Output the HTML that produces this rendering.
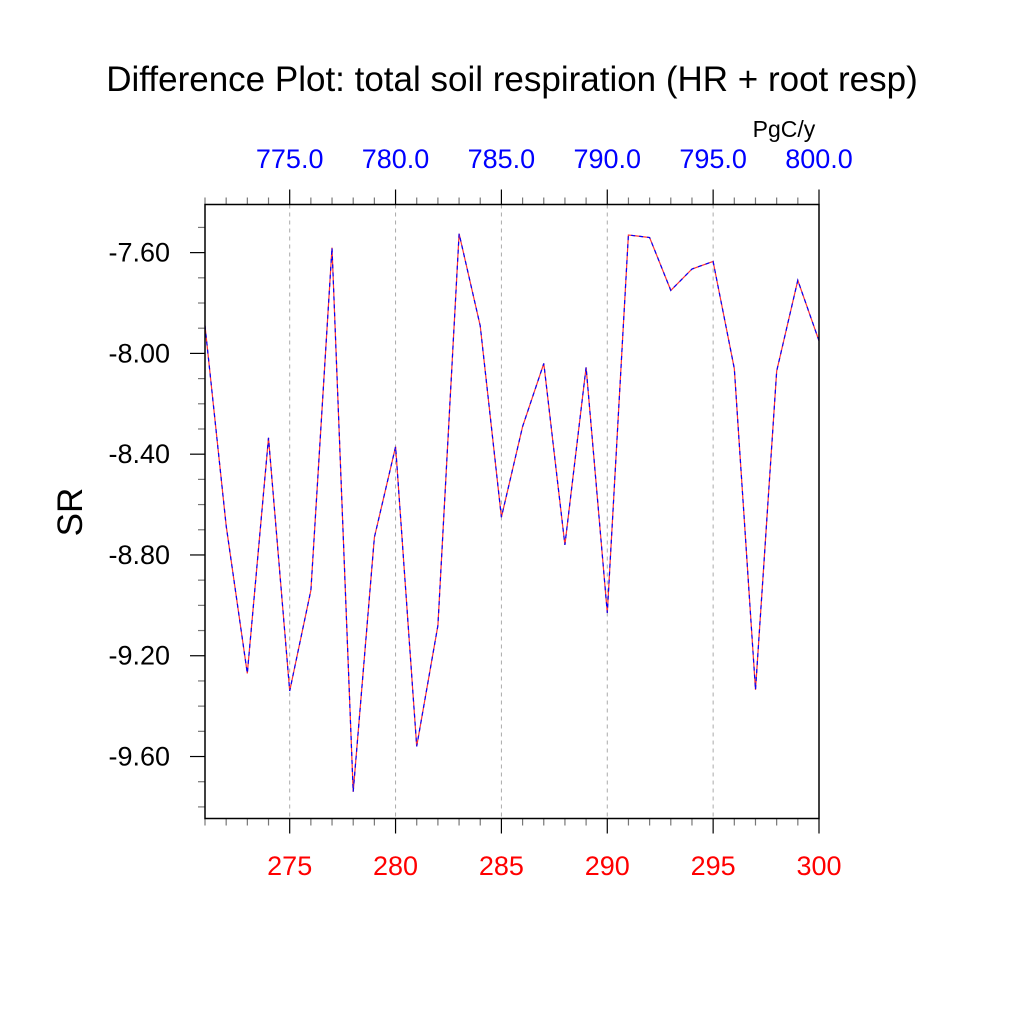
<!DOCTYPE html>
<html><head><meta charset="utf-8"><style>
html,body{margin:0;padding:0;background:#fff;}
svg{display:block;font-family:"Liberation Sans",sans-serif;}
</style></head><body>
<svg id="chart" width="1024" height="1024" viewBox="0 0 1024 1024">
<text x="512" y="91" text-anchor="middle" font-size="35" fill="#000">Difference Plot: total soil respiration (HR + root resp)</text>
<text x="784" y="137" text-anchor="middle" font-size="23" fill="#000">PgC/y</text>
<text x="82" y="512" text-anchor="middle" font-size="35" fill="#000" transform="rotate(-90 82 512)">SR</text>
<g id="grid"></g><g id="ticks"></g><g id="series"></g>
<rect x="205" y="204.5" width="614" height="614" fill="none" stroke="#000" stroke-width="1.5"/>
</svg>
<script>
const years=[271,272,273,274,275,276,277,278,279,280,281,282,283,284,285,286,287,288,289,290,291,292,293,294,295,296,297,298,299,300];
const srValues=[-7.89,-8.685,-9.27,-8.335,-9.34,-8.94,-7.58,-9.74,-8.73,-8.37,-9.56,-9.08,-7.525,-7.89,-8.65,-8.29,-8.04,-8.76,-8.055,-9.03,-7.53,-7.54,-7.75,-7.665,-7.635,-8.06,-9.335,-8.07,-7.71,-7.95];
const bottomTicks=[275,280,285,290,295,300];
const topTicks=["775.0","780.0","785.0","790.0","795.0","800.0"];
const yTicks=[-7.6,-8.0,-8.4,-8.8,-9.2,-9.6];
const yTickLabels=["-7.60","-8.00","-8.40","-8.80","-9.20","-9.60"];
const NS="http://www.w3.org/2000/svg";
const X0=271,X1=300,PX0=205,PX1=819;
const Y0=-7.409,Y1=-9.846,PY0=204.5,PY1=818.5;
const xs=v=>PX0+(v-X0)/(X1-X0)*(PX1-PX0);
const ys=v=>PY0+(v-Y0)/(Y1-Y0)*(PY1-PY0);
function mk(tag,attrs,parent){const e=document.createElementNS(NS,tag);for(const k in attrs)e.setAttribute(k,attrs[k]);parent.appendChild(e);return e;}
const grid=document.getElementById('grid'),ticks=document.getElementById('ticks'),series=document.getElementById('series');
for(let v=X0;v<=X1;v++){
  const x=xs(v);const major=bottomTicks.includes(v);const L=major?15:7;
  const t1=mk('line',{x1:x,x2:x,y1:PY1,y2:PY1+L,stroke:major?'#000':'#777','stroke-width':1.2},ticks);
  
  
  const t2=mk('line',{x1:x,x2:x,y1:PY0,y2:PY0-L,stroke:major?'#000':'#777','stroke-width':1.2},ticks);
  
  
}
bottomTicks.forEach((v,i)=>{
  const x=xs(v);
  if(v<X1){const g=mk('line',{x1:x,x2:x,y1:PY0,y2:PY1,stroke:'#aaa','stroke-width':1,'stroke-dasharray':'4 4'},grid);
  
  }
  const b=mk('text',{x:x,y:875,'text-anchor':'middle','font-size':27,fill:'#f00'},ticks);b.textContent=v;
  
  
  const t=mk('text',{x:x,y:168,'text-anchor':'middle','font-size':27,fill:'#00f'},ticks);t.textContent=topTicks[i];
  
  
});
for(let k=-74;k>=-98;k--){
  const v=k/10;const y=ys(v);if(y<PY0||y>PY1)continue;
  const major=(k%4===0);const L=major?15:7;
  const t=mk('line',{x1:PX0-L,x2:PX0,y1:y,y2:y,stroke:major?'#000':'#777','stroke-width':1.2},ticks);
  
  
}
yTicks.forEach((v,i)=>{
  const t=mk('text',{x:170,y:ys(v)+9,'text-anchor':'end','font-size':27,fill:'#000'},ticks);t.textContent=yTickLabels[i];
  
  
});
const pts=years.map((yr,i)=>xs(yr).toFixed(1)+','+ys(srValues[i]).toFixed(1)).join(' ');
const r=mk('polyline',{points:pts,fill:'none',stroke:'#f33','stroke-width':1.2},series);


const b=mk('polyline',{points:pts,fill:'none',stroke:'#00f','stroke-width':1.2,'stroke-dasharray':'4 4'},series);


</script>
</body></html>
